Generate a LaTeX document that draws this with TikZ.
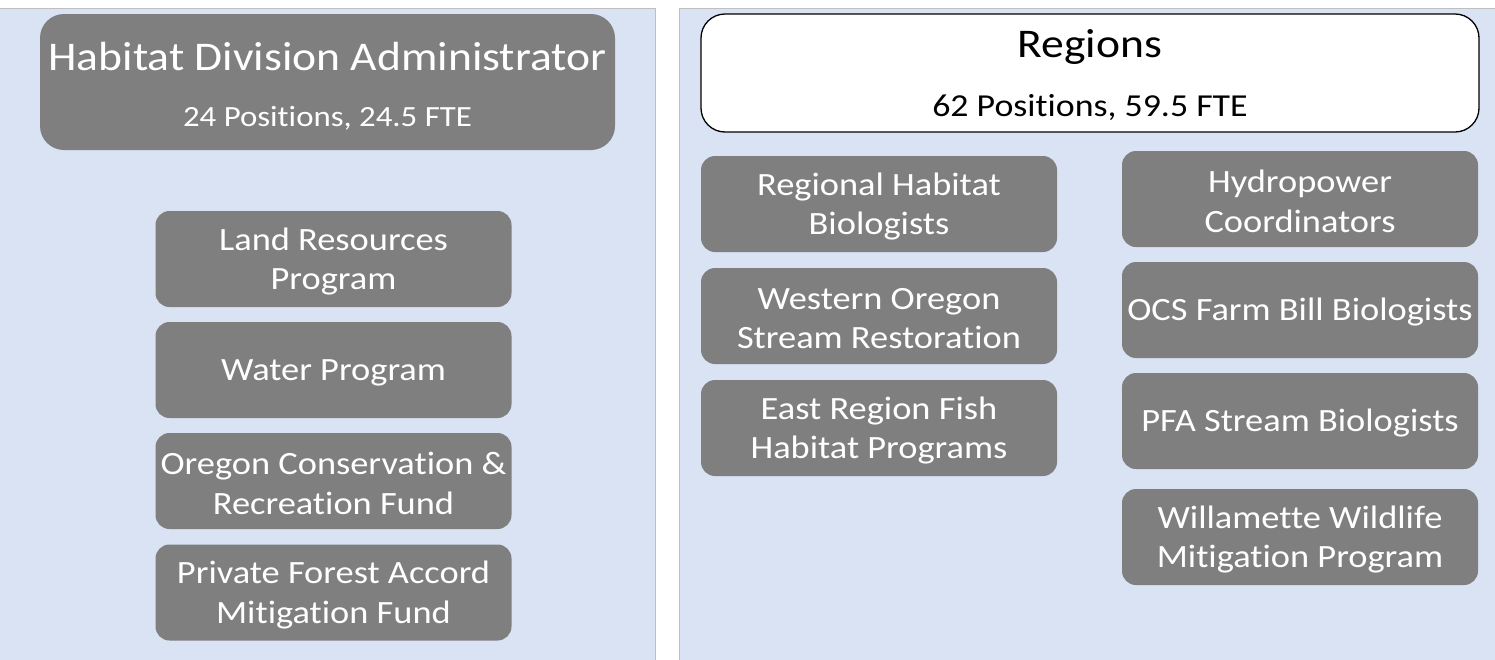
\documentclass[tikz,border=0pt]{standalone}
\usepackage{fontspec}
\setmainfont{Carlito}[FakeStretch=1.12, Ligatures=NoCommon]
\definecolor{panelblue}{HTML}{DAE3F3}
\definecolor{boxgrey}{HTML}{7F7F7F}
\definecolor{edgegrey}{HTML}{BFBFBF}
\tikzset{
  panel/.style={fill=panelblue, draw=edgegrey, line width=1pt},
  unit/.style={fill=boxgrey, draw=none, rounded corners=14pt, minimum width=356pt, minimum height=96pt,
    text=white, align=center, font=\fontsize{32.5}{39.5}\selectfont, inner sep=0pt},
  unittext/.style={text=white, align=center, font=\fontsize{32.5}{39.5}\selectfont, inner sep=0pt, yshift=-2.5pt},
  head/.style={rounded corners=24pt, inner sep=0pt},
  headtitle/.style={font=\fontsize{40.7}{48}\selectfont, inner sep=0pt, yshift=-2pt},
}
\begin{document}
\begin{tikzpicture}[x=1pt,y=-1pt]
\useasboundingbox (0,0) rectangle (1495,659);
\fill[white] (0,0) rectangle (1495,659);
% panels
\path[panel] (-2,8) rectangle (655,662);
\path[panel] (679,8) rectangle (1498,662);
% left header
\node[head, fill=boxgrey, minimum width=575pt, minimum height=136pt] (hda) at (327.5,82) {};
\node[headtitle, text=white] (hdat) at (327.5,55) {Habitat Division Administrator};
\node[font=\fontsize{29.3}{34}\selectfont, inner sep=0pt, text=white, yshift=-2pt] (hdas) at (327.5,116) {24 Positions, 24.5 FTE};
% left units
\node[unit] (land) at (333.5,259) {};
\node[unittext] (landt) at (land) {Land Resources\\Program};
\node[unit] (water) at (333.5,370) {};
\node[unittext] (watert) at (water) {Water Program};
\node[unit] (ocrf) at (333.5,481) {};
\node[unittext] (ocrft) at (ocrf) {Oregon Conservation \&\\Recreation Fund};
\node[unit] (pfa) at (333.5,592.5) {};
\node[unittext] (pfat) at (pfa) {Private Forest Accord\\Mitigation Fund};
% right header
\node[head, fill=white, draw=black, line width=1.3pt, minimum width=778pt, minimum height=118pt] (reg) at (1090,73) {};
\node[headtitle, text=black] (regt) at (1090,45) {Regions};
\node[font=\fontsize{32}{38}\selectfont, inner sep=0pt, text=black, yshift=-2pt] (regs) at (1090,106) {62 Positions, 59.5 FTE};
% right column 1
\node[unit] (rhb) at (879,204) {};
\node[unittext] (rhbt) at (rhb) {Regional Habitat\\Biologists};
\node[unit] (wosr) at (879,316) {};
\node[unittext] (wosrt) at (wosr) {Western Oregon\\Stream Restoration};
\node[unit] (erfh) at (879,428) {};
\node[unittext] (erfht) at (erfh) {East Region Fish\\Habitat Programs};
% right column 2
\node[unit] (hyd) at (1300,199) {};
\node[unittext] (hydt) at (hyd) {Hydropower\\Coordinators};
\node[unit] (ocs) at (1300,310) {};
\node[unittext] (ocst) at (ocs) {OCS Farm Bill Biologists};
\node[unit] (pfas) at (1300,421) {};
\node[unittext] (pfast) at (pfas) {PFA Stream Biologists};
\node[unit] (wwm) at (1300,537) {};
\node[unittext] (wwmt) at (wwm) {Willamette Wildlife\\Mitigation Program};
\end{tikzpicture}
\end{document}
